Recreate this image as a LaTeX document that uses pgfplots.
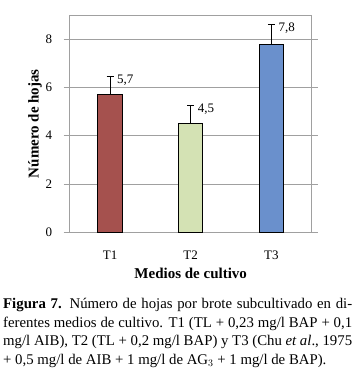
\documentclass[border=0pt]{standalone}
\usepackage{pgfplots}
\pgfplotsset{compat=1.18}
\usepackage{fontspec}
\setmainfont{Liberation Serif}
\definecolor{cA}{HTML}{A5514E}
\definecolor{cB}{HTML}{D4E2B4}
\definecolor{cC}{HTML}{6A90CC}
\definecolor{gridc}{HTML}{A0A0A0}
\begin{document}
\begin{tikzpicture}[x=1pt,y=1pt]
\path[use as bounding box] (0,0) rectangle (360,374);
\begin{axis}[
  at={(69.7pt,141.7pt)}, anchor=south west,
  scale only axis, width=242pt, height=217.3pt,
  xmin=0.5, xmax=3.5, ymin=0, ymax=9,
  xtick={1,2,3}, xticklabels={T1,T2,T3},
  ytick={0,2,4,6,8},
  ymajorgrids, grid style={gridc, line width=0.8pt},
  axis line style={gridc, line width=0.8pt},
  xtick style={draw=none},
  ytick style={gridc, line width=0.8pt},
  tick align=outside, major tick length=6pt,
  /pgf/number format/assume math mode=true,
  ticklabel style={font=\fontsize{13}{15}\selectfont},
  yticklabel style={xshift=-8pt},
  xticklabel style={yshift=-9pt},
  xlabel={\textbf{Medios de cultivo}},
  ylabel={\textbf{Número de hojas}},
  label style={font=\fontsize{15}{17}\selectfont},
  xlabel style={at={(axis description cs:0.5,-0.189)}, anchor=center},
  ylabel style={at={(axis description cs:-0.143,0.5)}, anchor=center, rotate=0},
  clip=false,
]
\addplot[ybar, bar width=24.3pt, draw=black, line width=0.8pt, fill=cA,
  error bars/.cd, y dir=plus, y explicit,
  error bar style={black, line width=0.8pt},
  error mark options={rotate=90, mark size=3.5pt, black, line width=0.8pt}]
  coordinates {(1,5.7) +- (0,0.75)};
\addplot[ybar, bar width=24.3pt, draw=black, line width=0.8pt, fill=cB,
  error bars/.cd, y dir=plus, y explicit,
  error bar style={black, line width=0.8pt},
  error mark options={rotate=90, mark size=3.5pt, black, line width=0.8pt}]
  coordinates {(2,4.5) +- (0,0.75)};
\addplot[ybar, bar width=24.3pt, draw=black, line width=0.8pt, fill=cC,
  error bars/.cd, y dir=plus, y explicit,
  error bar style={black, line width=0.8pt},
  error mark options={rotate=90, mark size=3.5pt, black, line width=0.8pt}]
  coordinates {(3,7.8) +- (0,0.8)};
\addplot[draw=none, mark=none, nodes near coords, point meta=explicit symbolic,
  nodes near coords style={anchor=west, inner sep=0pt, xshift=7pt, yshift=-4pt,
    font=\fontsize{13}{15}\selectfont, black}]
  coordinates {(1,6.45) [5,7] (2,5.25) [4,5] (3,8.6) [7,8]};
\end{axis}
\node[anchor=north west, inner sep=0pt, text width=349pt, align=justify,
  font=\fontsize{14.8}{18.7}\selectfont] at (3,76)
  {\textbf{Figura 7.} Número de hojas por brote subcultivado en di-\linebreak
  ferentes medios de cultivo. T1 (TL + 0,23 mg/l BAP + 0,1\linebreak
  mg/l AIB), T2 (TL + 0,2 mg/l BAP) y T3 (Chu \textit{et al}., 1975\linebreak
  + 0,5 mg/l de AIB + 1 mg/l de AG$_3$ + 1 mg/l de BAP).};
\end{tikzpicture}
\end{document}
